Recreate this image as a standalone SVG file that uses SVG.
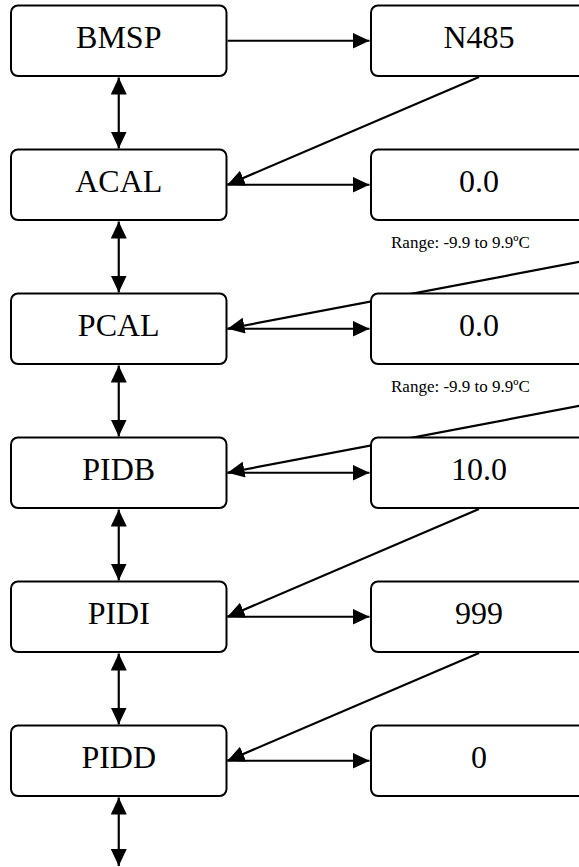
<svg xmlns="http://www.w3.org/2000/svg" width="579" height="867" viewBox="0 0 579 867">
  <style>
    .box { fill: #ffffff; stroke: #000000; stroke-width: 2; }
    .lbl { font-family: "Liberation Serif", "Times New Roman", serif; font-size: 32px; fill: #000000; text-anchor: middle; }
    .note { font-family: "Liberation Serif", "Times New Roman", serif; font-size: 17px; fill: #000000; }
    .wire { fill: none; stroke: #000000; stroke-width: 2.2; }
    .one { marker-end: url(#head); }
    .two { marker-start: url(#head); marker-end: url(#head); }
  </style>
  <defs>
    <marker id="head" markerUnits="userSpaceOnUse" markerWidth="17" markerHeight="16" viewBox="0 0 17 16" refX="17" refY="8" orient="auto-start-reverse">
      <path d="M0,0 L17,8 L0,16 Z" fill="#000000"/>
    </marker>
  </defs>

  <rect width="579" height="867" fill="#ffffff"/>

  <!-- connectors, drawn first so the boxes sit on top -->
  <g id="connectors">
    <!-- menu chain, both directions -->
    <line class="wire two" x1="118.75" y1="77.5" x2="118.75" y2="148.5"/>
    <line class="wire two" x1="118.75" y1="221.5" x2="118.75" y2="292.5"/>
    <line class="wire two" x1="118.75" y1="365.5" x2="118.75" y2="436.5"/>
    <line class="wire two" x1="118.75" y1="509.5" x2="118.75" y2="580.5"/>
    <line class="wire two" x1="118.75" y1="653.5" x2="118.75" y2="724.5"/>
    <line class="wire two" x1="118.75" y1="797.5" x2="118.75" y2="866"/>

    <!-- parameter to value -->
    <line class="wire one" x1="227.5" y1="40.75" x2="369.5" y2="40.75"/>
    <line class="wire one" x1="227.5" y1="184.75" x2="369.5" y2="184.75"/>
    <line class="wire one" x1="227.5" y1="328.75" x2="369.5" y2="328.75"/>
    <line class="wire one" x1="227.5" y1="472.75" x2="369.5" y2="472.75"/>
    <line class="wire one" x1="227.5" y1="616.75" x2="369.5" y2="616.75"/>
    <line class="wire one" x1="227.5" y1="760.75" x2="369.5" y2="760.75"/>

    <!-- value back to next parameter -->
    <line class="wire one" x1="479" y1="77" x2="227.5" y2="184.75"/>
    <line class="wire one" x1="600" y1="258" x2="227.5" y2="328.75"/>
    <line class="wire one" x1="600" y1="402" x2="227.5" y2="472.75"/>
    <line class="wire one" x1="479" y1="509" x2="227.5" y2="616.75"/>
    <line class="wire one" x1="479" y1="653" x2="227.5" y2="760.75"/>
  </g>

  <!-- parameter column -->
  <g id="bmsp"><rect class="box" x="11" y="5.5" width="215.5" height="70.5" rx="7"/><text class="lbl" x="118.75" y="48.3">BMSP</text></g>
  <g id="acal"><rect class="box" x="11" y="149.5" width="215.5" height="70.5" rx="7"/><text class="lbl" x="118.75" y="192.3">ACAL</text></g>
  <g id="pcal"><rect class="box" x="11" y="293.5" width="215.5" height="70.5" rx="7"/><text class="lbl" x="118.75" y="336.3">PCAL</text></g>
  <g id="pidb"><rect class="box" x="11" y="437.5" width="215.5" height="70.5" rx="7"/><text class="lbl" x="118.75" y="480.3">PIDB</text></g>
  <g id="pidi"><rect class="box" x="11" y="581.5" width="215.5" height="70.5" rx="7"/><text class="lbl" x="118.75" y="624.3">PIDI</text></g>
  <g id="pidd"><rect class="box" x="11" y="725.5" width="215.5" height="70.5" rx="7"/><text class="lbl" x="118.75" y="768.3">PIDD</text></g>

  <!-- value column -->
  <g id="val-bmsp"><rect class="box" x="371" y="5.5" width="217" height="70.5" rx="7"/><text class="lbl" x="479" y="48.3">N485</text></g>
  <g id="val-acal"><rect class="box" x="371" y="149.5" width="217" height="70.5" rx="7"/><text class="lbl" x="479" y="192.3">0.0</text></g>
  <g id="val-pcal"><rect class="box" x="371" y="293.5" width="217" height="70.5" rx="7"/><text class="lbl" x="479" y="336.3">0.0</text></g>
  <g id="val-pidb"><rect class="box" x="371" y="437.5" width="217" height="70.5" rx="7"/><text class="lbl" x="479" y="480.3">10.0</text></g>
  <g id="val-pidi"><rect class="box" x="371" y="581.5" width="217" height="70.5" rx="7"/><text class="lbl" x="479" y="624.3">999</text></g>
  <g id="val-pidd"><rect class="box" x="371" y="725.5" width="217" height="70.5" rx="7"/><text class="lbl" x="479" y="768.3">0</text></g>

  <!-- range notes -->
  <g id="range-acal"><text class="note" x="391" y="248">Range: -9.9 to 9.9ºC</text></g>
  <g id="range-pcal"><text class="note" x="391" y="392">Range: -9.9 to 9.9ºC</text></g>
</svg>
